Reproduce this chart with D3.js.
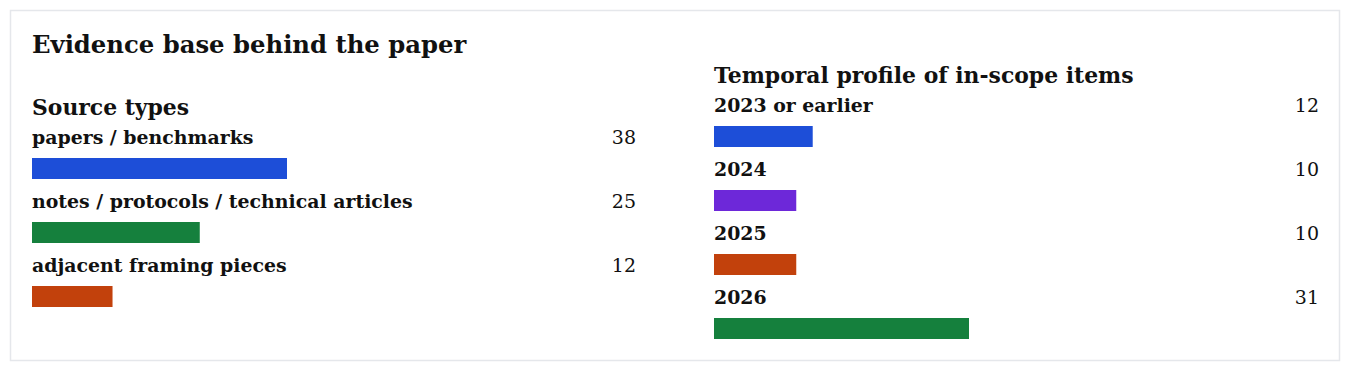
<!DOCTYPE html>
<html>
<head>
<meta charset="utf-8">
<script src="https://cdn.jsdelivr.net/npm/d3@7"></script>
<style>
  html, body { margin: 0; padding: 0; background: #fff; }
  svg text { font-family: "DejaVu Serif", "Liberation Serif", serif; fill: #111; }
</style>
</head>
<body>
<script>
const width = 1349;
const height = 371;

// data
const sourceTypes = ["papers / benchmarks", "notes / protocols / technical articles", "adjacent framing pieces"];
const sourceCounts = [38, 25, 12];
const sourceColors = ["#1d4ed8", "#15803d", "#c2410c"];

const periods = ["2023 or earlier", "2024", "2025", "2026"];
const periodCounts = [12, 10, 10, 31];
const periodColors = ["#1d4ed8", "#6d28d9", "#c2410c", "#15803d"];

const svg = d3.select("body")
	.append("svg")
	.attr("width", width)
	.attr("height", height);

// card frame
svg.append("rect")
	.attr("x", 10.5)
	.attr("y", 10.5)
	.attr("width", 1329)
	.attr("height", 350)
	.attr("fill", "#fff")
	.attr("stroke", "#e5e7eb")
	.attr("stroke-width", 1.5);

svg.append("text")
	.attr("x", 32)
	.attr("y", 53)
	.style("font-size", "24.3px")
	.style("font-weight", "bold")
	.text("Evidence base behind the paper");

// one panel of labelled bars
function panel(opts) {
	const g = svg.append("g");

	g.append("text")
		.attr("x", opts.x0)
		.attr("y", opts.titleY)
		.style("font-size", "21.9px")
		.style("font-weight", "bold")
		.text(opts.title);

	const x = d3.scaleLinear()
		.domain([0, d3.max(opts.values)])
		.range([0, 255]);

	const y = d3.scaleLinear()
		.domain([0, 1])
		.range([opts.firstY, opts.firstY + 64]);

	const rows = g.selectAll("g.row")
		.data(opts.labels.map((d, i) => ({label: d, value: opts.values[i], color: opts.colors[i], i: i})))
		.enter().append("g")
		.attr("class", "row")
		.attr("transform", (d) => "translate(0," + y(d.i) + ")");

	rows.append("text")
		.attr("x", opts.x0)
		.attr("y", 0)
		.style("font-size", "18.9px")
		.style("font-weight", "bold")
		.text((d) => d.label);

	rows.append("text")
		.attr("x", opts.x1)
		.attr("y", 0)
		.attr("text-anchor", "end")
		.style("font-size", "19px")
		.text((d) => d.value);

	rows.append("rect")
		.attr("x", opts.x0)
		.attr("y", 14)
		.attr("width", (d) => x(d.value))
		.attr("height", 21)
		.attr("fill", (d) => d.color);
}

panel({
	title: "Source types", titleY: 115,
	labels: sourceTypes, values: sourceCounts, colors: sourceColors,
	x0: 32, x1: 636, firstY: 144
});

panel({
	title: "Temporal profile of in-scope items", titleY: 83,
	labels: periods, values: periodCounts, colors: periodColors,
	x0: 714, x1: 1319, firstY: 112
});
</script>
</body>
</html>
